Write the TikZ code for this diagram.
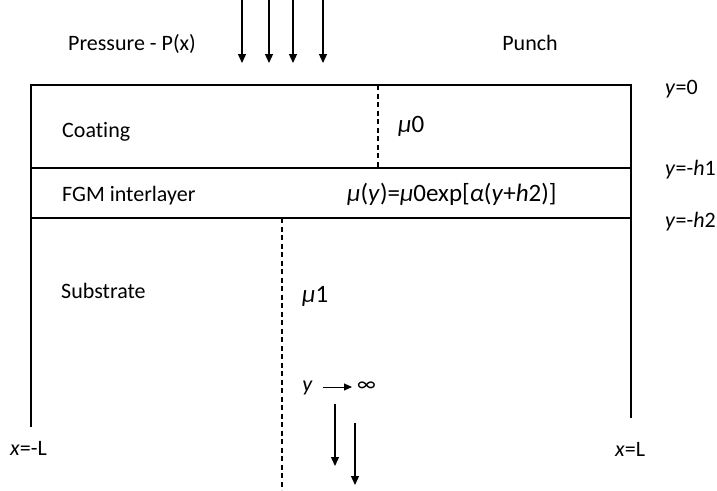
\documentclass[tikz,border=0pt]{standalone}
\usepackage{fontspec}
\setmainfont{Carlito}[Ligatures={NoCommon}]
\usepackage{tikz}
\usetikzlibrary{arrows.meta, positioning, calc}

\tikzset{
  lbl/.style={font=\fontsize{22}{26}\selectfont, inner sep=0pt, anchor=base west},
  modlbl/.style={font=\fontsize{25}{29}\selectfont, inner sep=0pt, anchor=base west},
  wall/.style={line width=1.3pt},
  axisline/.style={line width=1.3pt, dash pattern=on 5pt off 3.5pt},
  load/.style={line width=1.3pt, -{Triangle[length=9pt, width=8pt]}}
}

\begin{document}
\begin{tikzpicture}[x=1pt, y=-1pt]
  \useasboundingbox (0,0) rectangle (717,490);

  % Layer boundaries
  \coordinate (topL) at (31,85);
  \coordinate (topR) at (631,85);
  \coordinate (botL) at (31,427);
  \coordinate (botR) at (631,418);
  \coordinate (honeL) at (31,168);
  \coordinate (honeR) at (631,168);
  \coordinate (htwoL) at (31,218);
  \coordinate (htwoR) at (631,218);
  \draw[wall] (botL) -- (topL) -- (topR) -- (botR);
  \draw[wall] (honeL) -- (honeR);
  \draw[wall] (htwoL) -- (htwoR);

  % Dashed lines
  \coordinate (cdashA) at (378,85);
  \coordinate (cdashB) at (378,168);
  \coordinate (sdashA) at (282,218);
  \coordinate (sdashB) at (282,490);
  \draw[axisline] (cdashA) -- (cdashB);
  \draw[axisline] (sdashA) -- (sdashB);

  % Pressure arrows
  \foreach \x in {242,269,293,323} {
    \coordinate (pa\x) at (\x,0);
    \coordinate (pb\x) at (\x,63);
    \draw[load] (pa\x) -- (pb\x);
  }

  % Labels
  \node[lbl, anchor=base] (pressure) at (132,50) {Pressure - P(x)};
  \node[lbl, anchor=base] (punch) at (530,50) {Punch};
  \node[lbl] (coating) at (62,137) {Coating};
  \node[lbl] (fgm) at (62,201) {FGM interlayer};
  \node[lbl] (substrate) at (61,298) {Substrate};
  \node[modlbl] (muzero) at (398,132) {\textit{μ}0};
  \node[modlbl] (muy) at (347,201) {\textit{μ}(\textit{y})=\textit{μ}0exp[\textit{α}(\textit{y}+\textit{h}2)]};
  \node[modlbl] (muone) at (302,302) {\textit{μ}1};
  \node[lbl] (yzero) at (665,94) {\textit{y}=0};
  \node[lbl] (yhone) at (665,175) {\textit{y}=-\textit{h}1};
  \node[lbl] (yhtwo) at (665,227) {\textit{y}=-\textit{h}2};
  \node[lbl] (xleft) at (10,455) {\textit{x}=-L};
  \node[lbl] (xright) at (615,456) {\textit{x}=L};

  % Far field
  \node[lbl, anchor=base east, inner xsep=10pt] (yinf) at (323,391) {\textit{y}};
  \node[lbl, anchor=west, inner xsep=5pt] (infty) at (352,387) {∞};
  \draw[line width=1pt, -{Triangle[length=8pt, width=7pt]}] (yinf.east |- infty.west) -- (infty.west);
  \coordinate (faA) at (335,404);
  \coordinate (faB) at (335,466);
  \coordinate (fbA) at (355,423);
  \coordinate (fbB) at (355,485);
  \draw[load] (faA) -- (faB);
  \draw[load] (fbA) -- (fbB);
\end{tikzpicture}
\end{document}
